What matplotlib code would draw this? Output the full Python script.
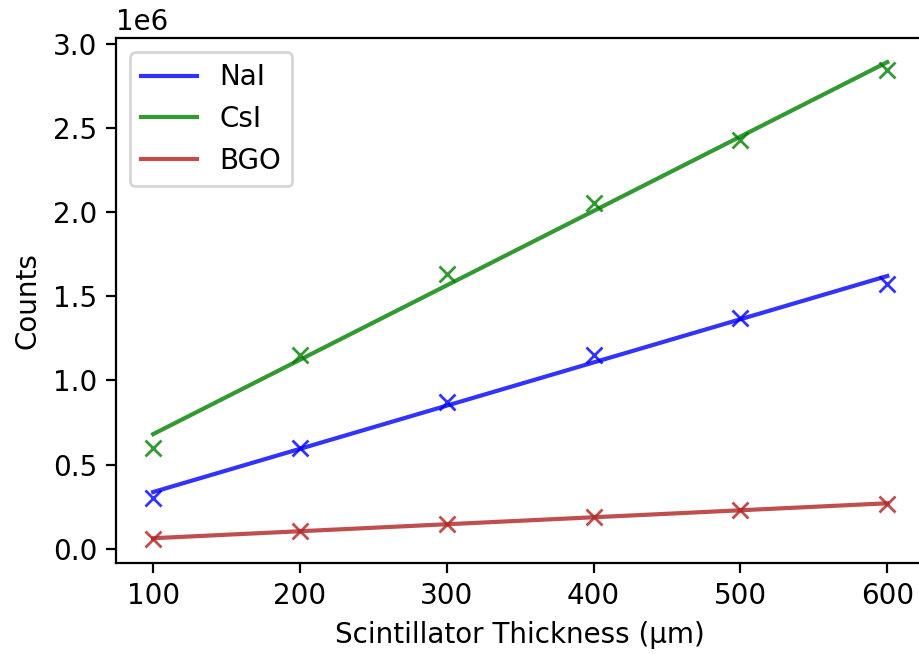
import numpy as np
import matplotlib
matplotlib.use('Agg')
import matplotlib.pyplot as plt

# scintillator thickness (um) and measured counts
thickness = [100, 200, 300, 400, 500, 600]
nai_counts = [0.300e6, 0.600e6, 0.873e6, 1.153e6, 1.373e6, 1.575e6]
csi_counts = [0.600e6, 1.153e6, 1.634e6, 2.056e6, 2.430e6, 2.840e6]
bgo_counts = [0.060e6, 0.107e6, 0.149e6, 0.190e6, 0.232e6, 0.267e6]

names = ['NaI', 'CsI', 'BGO']
colours = ['b', 'g', '#b22222']

fig = plt.figure(figsize=(920/200, 654/200), dpi=200)
ax = fig.add_axes([0.1266, 0.1396, 0.8777, 0.8018])

x = np.array(thickness)
for counts, name, c in zip([nai_counts, csi_counts, bgo_counts], names, colours):
    # linear fit through the measured points
    m, b = np.polyfit(x, counts, 1)
    ax.plot(x, m*x + b, color=c, alpha=0.8, label=name)
    ax.plot(x, counts, 'x', color=c, alpha=0.8)

ax.set_yticks(np.arange(0, 3.01e6, 0.5e6))
ax.legend(loc='upper left')
ax.set_xlabel('Scintillator Thickness (µm)')
ax.set_ylabel('Counts')
fig.savefig('out.png', dpi=200)
